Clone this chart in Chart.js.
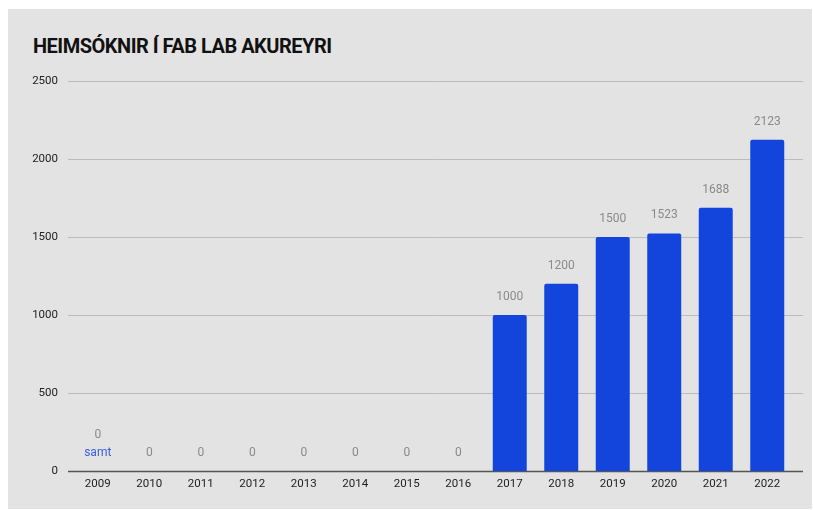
<!DOCTYPE html>
<html>
<head>
<meta charset="utf-8">
<script src="https://cdn.jsdelivr.net/npm/chart.js@4"></script>
<style>
  html, body { margin: 0; padding: 0; background: #ffffff; }
  #wrap { position: absolute; left: 8px; top: 9px; width: 804px; height: 500px; background: #e3e3e3; }
  #title { position: absolute; left: 25px; top: 25px; margin: 0; font: bold 20px Roboto, sans-serif; color: #111; letter-spacing: -0.5px; }
  canvas { position: absolute; left: 0; top: 0; }
</style>
</head>
<body>
<div id="wrap">
  <h1 id="title">HEIMSÓKNIR Í FAB LAB AKUREYRI</h1>
  <canvas id="chart" width="804" height="500"></canvas>
</div>
<script>
const years = ['2009', '2010', '2011', '2012', '2013', '2014', '2015', '2016', '2017', '2018', '2019', '2020', '2021', '2022'];
const visits = [0, 0, 0, 0, 0, 0, 0, 0, 1000, 1200, 1500, 1523, 1688, 2123];
const yTicks = [0, 500, 1000, 1500, 2000, 2500];
const notes = ['samt', '', '', '', '', '', '', '', '', '', '', '', '', ''];

const gridPlugin = {
    id: 'grid',
    beforeDatasetsDraw(chart) {
        const { ctx, chartArea, scales } = chart;
        ctx.save();
        yTicks.forEach(v => {
            const y = Math.round(scales.y.getPixelForValue(v)) + 0.5;
            ctx.beginPath();
            ctx.strokeStyle = v === 0 ? '#555555' : '#bcbcbc';
            ctx.lineWidth = v === 0 ? 1.5 : 1;
            ctx.moveTo(chartArea.left - 4, y);
            ctx.lineTo(chartArea.right + 10, y);
            ctx.stroke();
        });
        ctx.restore();
    }
};

const labelPlugin = {
    id: 'valueLabels',
    afterDatasetsDraw(chart) {
        const { ctx } = chart;
        const meta = chart.getDatasetMeta(0);
        ctx.save();
        ctx.font = '12px Roboto, sans-serif';
        ctx.textAlign = 'center';
        ctx.textBaseline = 'middle';
        meta.data.forEach((bar, i) => {
            let y = bar.y - 18;
            if (notes[i]) {
                ctx.fillStyle = '#3a5fe3';
                ctx.fillText(notes[i], bar.x, y);
                y -= 18;
            }
            ctx.fillStyle = '#8a8a8a';
            ctx.fillText(String(visits[i]), bar.x, y);
        });
        ctx.restore();
    }
};

new Chart(document.getElementById('chart'), {
    type: 'bar',
    data: {
        labels: years,
        datasets: [{
            data: visits,
            backgroundColor: '#1345dc',
            borderRadius: 2,
            borderSkipped: 'bottom',
            barPercentage: 0.66,
            categoryPercentage: 1
        }]
    },
    options: {
        responsive: false,
        animation: false,
        layout: { padding: { top: 72, right: 19, bottom: 0, left: 0 } },
        plugins: { legend: { display: false }, tooltip: { enabled: false } },
        scales: {
            x: {
                grid: { display: false, drawTicks: false },
                border: { display: false },
                ticks: { color: '#222', padding: 6, font: { family: 'Roboto', size: 11.5 }, maxRotation: 0 },
                afterFit(scale) { scale.height = 38; }
            },
            y: {
                min: 0,
                max: 2500,
                grid: { display: false, drawTicks: false },
                border: { display: false },
                ticks: {
                    stepSize: 500,
                    color: '#222',
                    padding: 14,
                    font: { family: 'Roboto', size: 11.5 },
                    callback: v => String(v)
                },
                afterFit(scale) { scale.width = 64; }
            }
        }
    },
    plugins: [gridPlugin, labelPlugin]
});
</script>
</body>
</html>
